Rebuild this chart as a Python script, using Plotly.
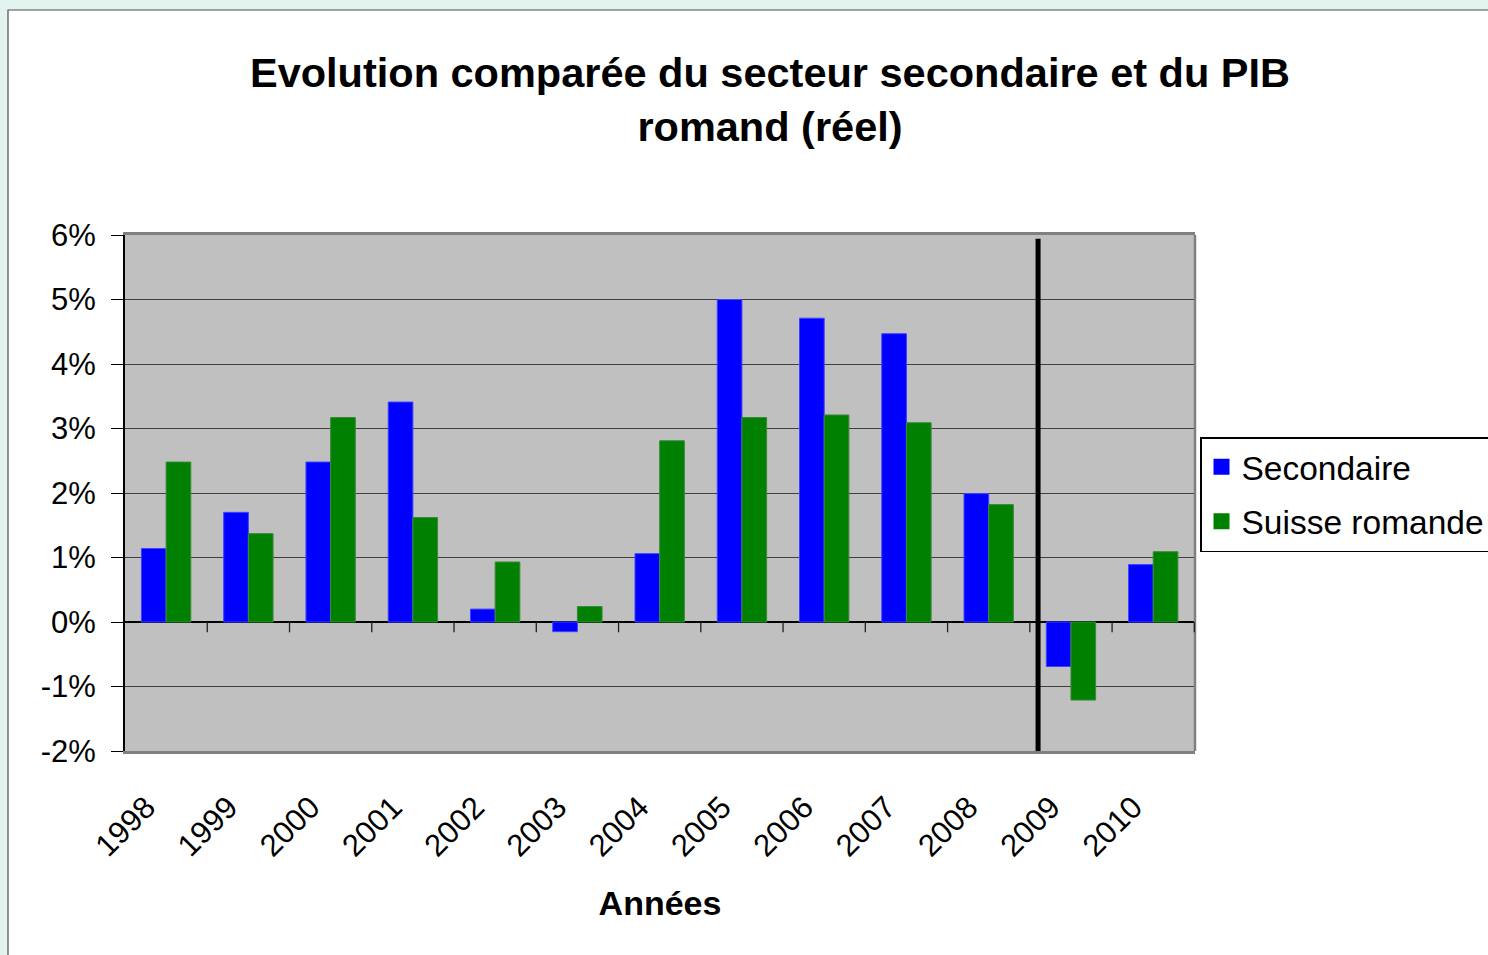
import plotly.graph_objects as go

# Données (variation annuelle réelle, en %)
annees = ["1998", "1999", "2000", "2001", "2002", "2003", "2004",
          "2005", "2006", "2007", "2008", "2009", "2010"]
secondaire = [1.14, 1.70, 2.48, 3.41, 0.20, -0.15, 1.06,
              5.00, 4.71, 4.47, 1.99, -0.69, 0.89]
suisse_romande = [2.48, 1.37, 3.17, 1.62, 0.93, 0.24, 2.81,
                  3.17, 3.21, 3.09, 1.82, -1.21, 1.09]

y_ticks = [-2, -1, 0, 1, 2, 3, 4, 5, 6]
y_labels = ["-2%", "-1%", "0%", "1%", "2%", "3%", "4%", "5%", "6%"]

# rupture entre observations et prévisions (position sur l'axe des catégories)
rupture = 10.6

W, H = 1488, 955
ML, MR, MT, MB = 125, 293, 235, 204
PW, PH = W - ML - MR, H - MT - MB


def px_x(px):
    return (px - ML) / PW


def px_y(py):
    return (H - MB - py) / PH


FONT = "Liberation Sans, Arial, sans-serif"
BLEU, VERT = "#0000FF", "#008000"

fig = go.Figure()
fig.add_trace(go.Bar(
    x=annees, y=secondaire, name="Secondaire", showlegend=False,
    marker=dict(color=BLEU, line=dict(color="#4040FF", width=1)),
))
fig.add_trace(go.Bar(
    x=annees, y=suisse_romande, name="Suisse romande", showlegend=False,
    marker=dict(color=VERT, line=dict(color="#3A8A3A", width=1)),
))
# entrées de légende (carrés plus grands que le symbole de barre par défaut)
for nom, couleur in [("Secondaire", BLEU), ("Suisse romande", VERT)]:
    fig.add_trace(go.Scatter(
        x=[None], y=[None], mode="markers", name=nom, legendgroup=nom,
        marker=dict(symbol="square", size=20, color=couleur),
    ))

shapes = []
# fond de page : bandes cyan et bordure du graphique
shapes.append(dict(type="rect", xref="paper", yref="paper",
                   x0=px_x(-5), x1=px_x(W + 5), y0=px_y(10), y1=px_y(-5),
                   fillcolor="#E3F3EF", line=dict(width=0), layer="below"))
shapes.append(dict(type="rect", xref="paper", yref="paper",
                   x0=px_x(-5), x1=px_x(8), y0=px_y(H + 5), y1=px_y(-5),
                   fillcolor="#E3F3EF", line=dict(width=0), layer="below"))
shapes.append(dict(type="rect", xref="paper", yref="paper",
                   x0=px_x(8), x1=px_x(W + 20), y0=px_y(H + 20), y1=px_y(10),
                   line=dict(color="#505050", width=1.2), layer="below"))
# bord droit gris de la zone de tracé
shapes.append(dict(type="line", xref="paper", yref="paper",
                   x0=1, x1=1, y0=0, y1=1,
                   line=dict(color="#808080", width=2.5)))
# graduations de l'axe des x sur la ligne zéro
for i in range(len(annees)):
    shapes.append(dict(type="line", xref="x", yref="y",
                       x0=i + 0.5, x1=i + 0.5, y0=0, y1=-0.16,
                       line=dict(color="#202020", width=1.3)))
# trait vertical noir (rupture)
shapes.append(dict(type="line", xref="x", yref="y",
                   x0=rupture, x1=rupture, y0=-2, y1=5.94,
                   line=dict(color="black", width=5)))

fig.update_layout(
    width=W, height=H,
    margin=dict(l=ML, r=MR, t=MT, b=MB, autoexpand=False),
    paper_bgcolor="white",
    plot_bgcolor="#C0C0C0",
    barmode="group",
    bargap=0.40,
    bargroupgap=0,
    font=dict(family=FONT, color="black"),
    title=dict(
        text="Evolution comparée du secteur secondaire et du PIB<br>romand (réel)",
        font=dict(family=FONT, size=41.5, color="black", weight="bold"),
        x=770 / W, xanchor="center", xref="container",
        y=1 - 87 / H, yanchor="top", yref="container",
    ),
    legend=dict(
        x=px_x(1200), y=px_y(437), xanchor="left", yanchor="top",
        font=dict(family=FONT, size=33.5, color="black"),
        bgcolor="white", bordercolor="black", borderwidth=1.5,
        itemsizing="trace", tracegroupgap=8,
    ),
    shapes=shapes,
    showlegend=True,
)

fig.update_xaxes(
    type="category",
    showgrid=False,
    showline=True, linecolor="#808080", linewidth=2.5, mirror=True,
    ticks="", tickangle=-45,
    tickfont=dict(family=FONT, size=31, color="black"),
    ticklabelstandoff=23, ticklabelshift=-20,
    title=dict(text="Années", font=dict(family=FONT, size=34, color="black", weight="bold"),
               standoff=30),
)

fig.update_yaxes(
    range=[-2, 6], tickvals=y_ticks, ticktext=y_labels,
    showgrid=True, gridcolor="#404040", gridwidth=1.4,
    zeroline=True, zerolinecolor="black", zerolinewidth=1.5,
    showline=True, linecolor="black", linewidth=2,
    ticks="outside", ticklen=12, tickcolor="black", tickwidth=1.3,
    tickfont=dict(family=FONT, size=31, color="black"),
    ticklabelstandoff=9,
)

# la page ne doit pas ajouter de marge autour du graphique
fig.write_html("out.html", config={"displayModeBar": False},
               post_script="document.body.style.margin='0';")
